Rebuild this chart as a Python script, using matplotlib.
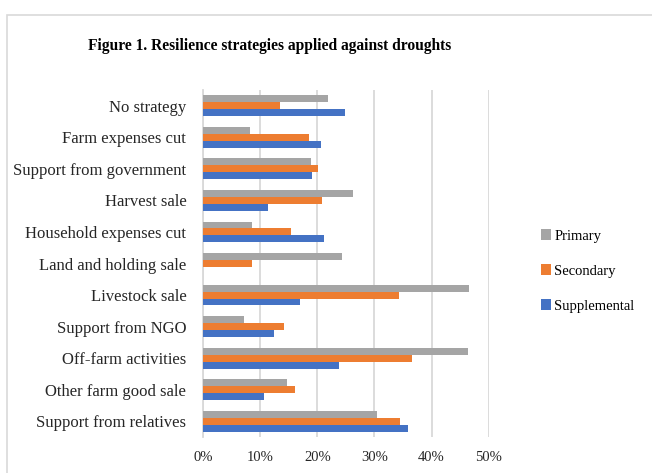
import matplotlib
matplotlib.use("Agg")
import matplotlib.pyplot as plt
from matplotlib.patches import Rectangle
from matplotlib.ticker import PercentFormatter
import numpy as np

plt.rcParams['font.family'] = ['Liberation Serif', 'DejaVu Serif']

# Data (share of respondents, %) - top to bottom as shown
categories = ["No strategy", "Farm expenses cut", "Support from government",
              "Harvest sale", "Household expenses cut", "Land and holding sale",
              "Livestock sale", "Support from NGO", "Off-farm activities",
              "Other farm good sale", "Support from relatives"]
primary = [21.9, 8.2, 18.9, 26.2, 8.6, 24.3, 46.6, 7.2, 46.3, 14.7, 30.5]
secondary = [13.4, 18.6, 20.1, 20.8, 15.4, 8.6, 34.3, 14.2, 36.6, 16.1, 34.4]
supplemental = [24.9, 20.7, 19.1, 11.3, 21.1, 0.0, 17.0, 12.5, 23.8, 10.6, 35.8]

series = [("Primary", primary, "#A5A5A5"),
          ("Secondary", secondary, "#ED7D31"),
          ("Supplemental", supplemental, "#4472C4")]

fig = plt.figure(figsize=(6.52, 4.73), dpi=100)

# light frame around the chart (left and top edges visible)
fig.patches.append(Rectangle((7 / 652, -0.05), 1.0, 1 - 15 / 473 + 0.05,
                             transform=fig.transFigure, fill=False,
                             edgecolor="#D9D9D9", linewidth=1.2))

ax = fig.add_axes([203 / 652, 1 - 437 / 473, (488.7 - 203) / 652, 347 / 473])

y = np.arange(len(categories))
h = 0.22
for i, (name, vals, color) in enumerate(series):
    ax.barh(y + (i - 1) * h, vals, height=h, color=color, label=name, zorder=3)

ax.set_ylim(len(categories) - 0.5, -0.5)
ax.set_xlim(0, 50)
ax.set_xticks(np.arange(0, 51, 10))
ax.xaxis.set_major_formatter(PercentFormatter(decimals=0))
ax.set_yticks(y)
ax.set_yticklabels(categories)
ax.tick_params(axis="both", length=0, colors="#262626")
ax.tick_params(axis="x", pad=10, labelsize=10.5)
ax.tick_params(axis="y", pad=12, labelsize=12)

ax.grid(axis="x", color="#D9D9D9", linewidth=1.3, zorder=0)
for s in ["top", "right", "bottom"]:
    ax.spines[s].set_visible(False)
ax.spines["left"].set_color("#D9D9D9")
ax.spines["left"].set_linewidth(1.3)

fig.text(270 / 652, 1 - 46 / 473, "Figure 1. Resilience strategies applied against droughts",
         ha="center", va="center", fontsize=11.2, fontweight="bold")

ax.legend(loc="center left", bbox_to_anchor=(528 / 652, 1 - 271 / 473),
          bbox_transform=fig.transFigure, frameon=False, fontsize=10.5,
          handlelength=0.7, handleheight=0.7, handletextpad=0.2,
          labelspacing=1.5)

fig.savefig("out.png", dpi=100)
